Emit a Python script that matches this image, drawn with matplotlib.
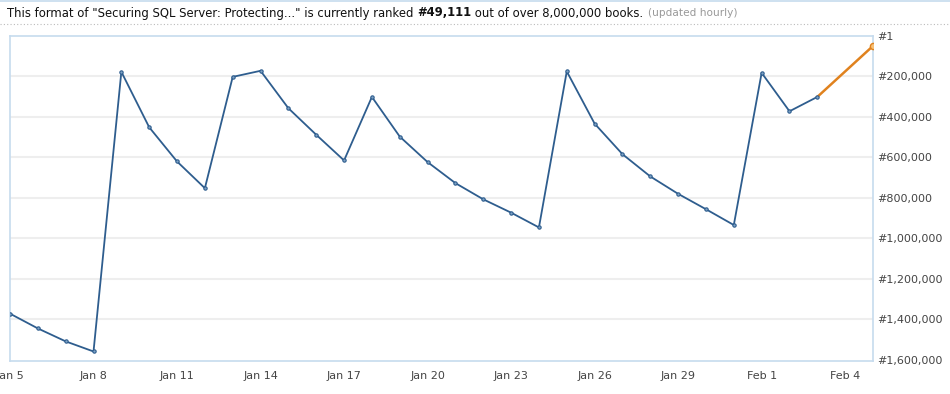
import matplotlib
matplotlib.use("Agg")
import matplotlib.pyplot as plt
import datetime as dt

# ---- data ----
dates = [dt.date(2011, 1, 5) + dt.timedelta(days=i) for i in range(30)]  # Jan 5 .. Feb 3
ranks = [1372000, 1445000, 1509000, 1559000, 177000, 451000, 620000, 752000,
         202000, 172000, 357000, 488000, 615000, 301000, 497000, 623000,
         727000, 807000, 873000, 946000, 175000, 433000, 584000, 694000,
         780000, 856000, 934000, 182000, 372000, 301000]
current_date = dt.date(2011, 2, 5)
current_rank = 49111
ytick_vals = [1, 200000, 400000, 600000, 800000, 1000000, 1200000, 1400000, 1600000]
ytick_labels = ["#1", "#200,000", "#400,000", "#600,000", "#800,000",
                "#1,000,000", "#1,200,000", "#1,400,000", "#1,600,000"]
xtick_dates = [dt.date(2011, 1, 5) + dt.timedelta(days=3 * i) for i in range(11)]
xtick_labels = [d.strftime("%b ") + str(d.day) for d in xtick_dates]

W, H = 950, 394
fig = plt.figure(figsize=(W / 100, H / 100), dpi=100)
fig.patch.set_facecolor("white")

ax = fig.add_axes([10 / W, 1 - 361 / H, (873 - 10) / W, (361 - 36) / H])

blue = "#2E5D8E"
orange = "#E0821E"
frame = "#C6DBEE"

for v in ytick_vals[1:-1]:
    ax.axhline(v, color="#EEEEEE", lw=1.5, zorder=0)

ax.plot(dates, ranks, color=blue, lw=1.3, marker="o", ms=2.4,
        mfc="#7FA3C6", mec=blue, mew=0.8, zorder=3)
ax.plot([dates[-1], current_date], [ranks[-1], current_rank], color=orange,
        lw=1.8, zorder=2)
ax.plot([current_date], [current_rank], marker="o", ms=4.5, color=orange,
        mfc="#F6C27A", mec=orange, mew=1, zorder=4)

ax.set_xlim(dates[0], current_date)
ax.set_ylim(1606000, 1)

ax.yaxis.tick_right()
ax.set_yticks(ytick_vals)
ax.set_yticklabels(ytick_labels)
ax.set_xticks(xtick_dates)
ax.set_xticklabels(xtick_labels)
ax.tick_params(axis="both", length=0, labelsize=8, colors="#444444")
ax.tick_params(axis="y", pad=3)
ax.tick_params(axis="x", pad=7)
for s in ax.spines.values():
    s.set_color(frame)
    s.set_linewidth(1.2)

# header
fs = 8.35
fig.text(7 / W, 1 - 13 / H, 'This format of "Securing SQL Server: Protecting..." is currently ranked ',
         fontsize=fs, color="#111111", va="center", ha="left")
t1 = fig.texts[-1]
fig.canvas.draw()
r = fig.canvas.get_renderer()
bb = t1.get_window_extent(r)
fig.text(bb.x1 / W, 1 - 13 / H, "#49,111", fontsize=fs, fontweight="bold",
         color="#111111", va="center", ha="left")
bb2 = fig.texts[-1].get_window_extent(r)
fig.text(bb2.x1 / W, 1 - 13 / H, " out of over 8,000,000 books.", fontsize=fs,
         color="#111111", va="center", ha="left")
bb3 = fig.texts[-1].get_window_extent(r)
fig.text((bb3.x1 + 5) / W, 1 - 13 / H, "(updated hourly)", fontsize=7.6,
         color="#999999", va="center", ha="left")

fig.add_artist(plt.Line2D([0, 1], [1 - 24 / H, 1 - 24 / H], transform=fig.transFigure,
                          color="#BBBBBB", lw=0.8, ls=(0, (1, 2))))
fig.add_artist(plt.Line2D([0, 1], [1 - 0.5 / H, 1 - 0.5 / H], transform=fig.transFigure,
                          color=frame, lw=1.2))

fig.savefig("out.png", dpi=100, facecolor="white")
